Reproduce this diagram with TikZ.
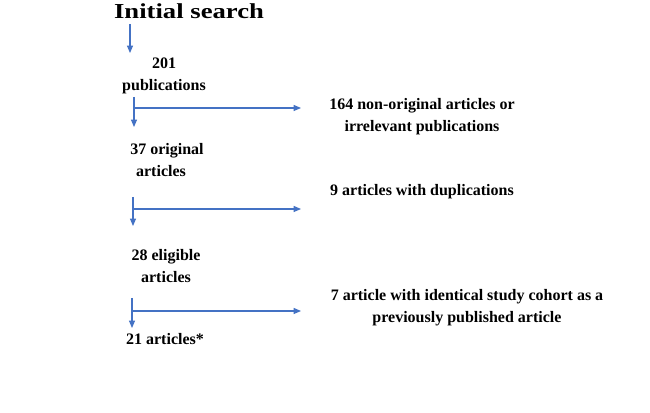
\documentclass[tikz,border=0pt]{standalone}
\usepackage{fontspec}
\setmainfont{Liberation Serif}
\usepackage{tikz}
\usetikzlibrary{arrows.meta, positioning}
\definecolor{flowblue}{RGB}{68, 114, 196}

\begin{document}
\begin{tikzpicture}[
    x=0.75pt, y=-0.75pt,
    txt/.style={inner sep=0pt, align=center, font=\bfseries\fontsize{12}{16.5}\selectfont},
    title/.style={inner sep=0pt, font=\bfseries\fontsize{16}{18}\selectfont},
    arr/.style={-{Triangle[length=5.5pt, width=4.5pt]}, line width=0.8pt, color=flowblue},
  ]
  \useasboundingbox (0,0) rectangle (650,413);
  % left column
  \node[title] (init) at (189,11) {\scalebox{1.25}[1]{Initial search}};
  \node[txt] (pub) at (164,76) {201\\publications};
  \node[txt] (orig) at (167,160) {37 original\\articles\hspace*{9pt}};
  \node[txt] (elig) at (166,266) {28 eligible\\ articles};
  \node[txt] (final) at (165,339) {21 articles*};
  % right column
  \node[txt] (nonorig) at (422,117) {164 non-original articles or\\irrelevant publications};
  \node[txt] (dupl) at (422,192) {9 articles with duplications};
  \node[txt] (cohort) at (467,308) {7 article with identical study cohort as a\\previously published article};
  % arrow ends
  \coordinate (a0) at (130,24);  \coordinate (b0) at (130,53);
  \coordinate (a1) at (134,97);  \coordinate (b1) at (134,127);
  \coordinate (a2) at (133,197); \coordinate (b2) at (133,226);
  \coordinate (a3) at (132,298); \coordinate (b3) at (132,328);
  \coordinate (x1) at (301,108);
  \coordinate (x2) at (301,209);
  \coordinate (x3) at (301,311);
  \draw[arr] (a0) -- (b0);
  \draw[arr] (a1) -- (b1);
  \draw[arr] (a2) -- (b2);
  \draw[arr] (a3) -- (b3);
  \draw[arr] (a1 |- x1) -- (x1);
  \draw[arr] (a2 |- x2) -- (x2);
  \draw[arr] (a3 |- x3) -- (x3);
\end{tikzpicture}
\end{document}
